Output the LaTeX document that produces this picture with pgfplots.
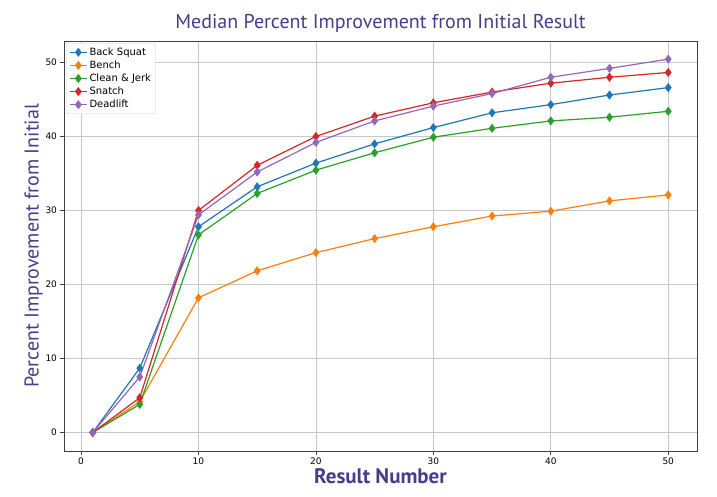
\documentclass[border=0pt]{standalone}
\usepackage{fontspec}
\setmainfont{DejaVu Sans}
\newfontfamily\labelfont{PT Sans}
\usepackage{pgfplots}
\pgfplotsset{compat=1.18}
\definecolor{c0}{HTML}{1F77B4}
\definecolor{c1}{HTML}{FF7F0E}
\definecolor{c2}{HTML}{2CA02C}
\definecolor{c3}{HTML}{D62728}
\definecolor{c4}{HTML}{9467BD}
\definecolor{ttl}{HTML}{483D8B}
\begin{document}
\begin{tikzpicture}
\useasboundingbox[fill=white] (-64pt,-45pt) rectangle (653pt,451pt);
\begin{axis}[
  at={(0,0)}, anchor=south west,
  scale only axis, width=633pt, height=410pt,
  xmin=-1.45, xmax=52.45, ymin=-2.5, ymax=52.9,
  xtick={0,10,20,30,40,50}, ytick={0,10,20,30,40,50},
  grid=major, grid style={color=black!22, line width=0.6pt},
  axis line style={color=black!75, line width=0.7pt},
  tick style={color=black!75, line width=0.7pt},
  tick align=outside, major tick length=3.5pt,
  xtick pos=bottom, ytick pos=left,
  ticklabel style={font=\fontsize{9}{10}\selectfont},
  /pgf/number format/assume math mode=true,
  title={\labelfont\fontsize{20}{22}\selectfont Median Percent Improvement from Initial Result},
  title style={color=ttl, yshift=-1pt},
  xlabel={\labelfont\bfseries\fontsize{21}{23}\selectfont Result Number},
  xlabel style={color=ttl, yshift=3pt},
  ylabel={\labelfont\fontsize{20}{22}\selectfont Percent Improvement from Initial},
  ylabel style={color=ttl, yshift=-4pt},
  legend style={font=\fontsize{10}{12}\selectfont, draw=black!20, rounded corners=2pt,
    at={(0.004,0.995)}, anchor=north west, row sep=0pt, inner sep=2.5pt},
  legend cell align=left,
  every axis plot/.append style={line width=1.2pt, mark=diamond*, mark size=3.6pt},
]
\addplot[color=c0] coordinates {
(1,0) (5,8.7) (10,27.8) (15,33.2) (20,36.4) (25,39.0) (30,41.2) (35,43.2) (40,44.3) (45,45.6) (50,46.6)};
\addlegendentry{Back Squat}
\addplot[color=c1] coordinates {
(1,0) (5,4.15) (10,18.2) (15,21.85) (20,24.3) (25,26.2) (30,27.8) (35,29.25) (40,29.9) (45,31.3) (50,32.1)};
\addlegendentry{Bench}
\addplot[color=c2] coordinates {
(1,0) (5,3.8) (10,26.7) (15,32.3) (20,35.45) (25,37.8) (30,39.9) (35,41.1) (40,42.1) (45,42.6) (50,43.4)};
\addlegendentry{Clean \& Jerk}
\addplot[color=c3] coordinates {
(1,0) (5,4.7) (10,30.0) (15,36.1) (20,40.0) (25,42.75) (30,44.55) (35,46.0) (40,47.2) (45,48.0) (50,48.65)};
\addlegendentry{Snatch}
\addplot[color=c4] coordinates {
(1,0) (5,7.5) (10,29.4) (15,35.2) (20,39.2) (25,42.1) (30,44.1) (35,45.8) (40,48.0) (45,49.2) (50,50.45)};
\addlegendentry{Deadlift}
\end{axis}
\end{tikzpicture}
\end{document}
